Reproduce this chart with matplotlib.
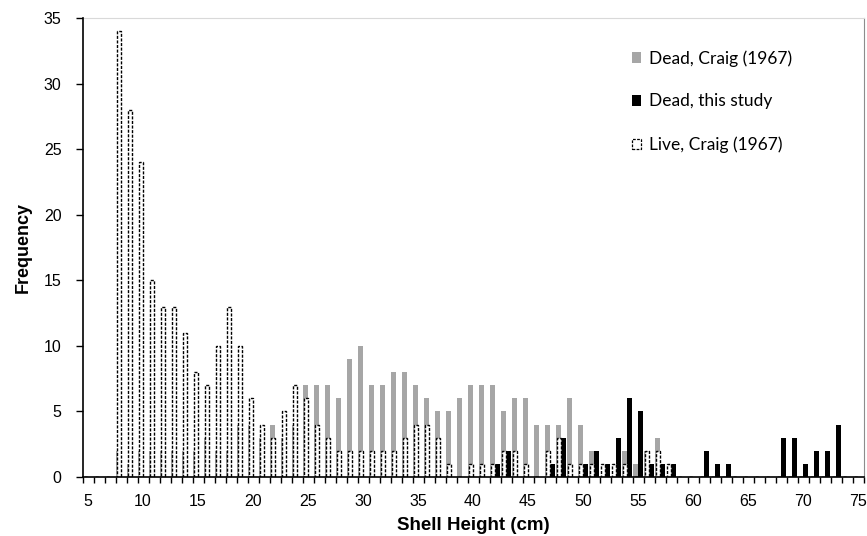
import numpy as np
import matplotlib
matplotlib.use("Agg")
import matplotlib.pyplot as plt
from matplotlib.patches import Patch

# shell height classes (cm)
sizes = np.arange(5, 76)

# Dead, Craig (1967)
dead_craig = [0, 0, 0, 2, 1, 2, 2, 2, 2, 2,
              2, 3, 2, 2, 4, 4, 3, 4, 3, 4,
              7, 7, 7, 6, 9, 10, 7, 7, 8, 8,
              7, 6, 5, 5, 6, 7, 7, 7, 5, 6,
              6, 4, 4, 4, 6, 4, 2, 0, 0, 2,
              1, 2, 3, 0, 0, 0, 0, 0, 0, 0,
              0, 0, 0, 0, 0, 0, 0, 0, 0, 0,
              0]

# Dead, this study
dead_study = [0, 0, 0, 0, 0, 0, 0, 0, 0, 0,
              0, 0, 0, 0, 0, 0, 0, 0, 0, 0,
              0, 0, 0, 0, 0, 0, 0, 0, 0, 0,
              0, 0, 0, 0, 0, 0, 0, 1, 2, 0,
              0, 0, 1, 3, 0, 1, 2, 1, 3, 6,
              5, 1, 1, 1, 0, 0, 2, 1, 1, 0,
              0, 0, 0, 3, 3, 1, 2, 2, 4, 0,
              0]

# Live, Craig (1967)
live_craig = [0, 0, 0, 34, 28, 24, 15, 13, 13, 11,
              8, 7, 10, 13, 10, 6, 4, 3, 5, 7,
              6, 4, 3, 2, 2, 2, 2, 2, 2, 3,
              4, 4, 3, 1, 0, 1, 1, 1, 2, 2,
              1, 0, 2, 3, 1, 1, 1, 1, 1, 1,
              0, 2, 2, 1, 0, 0, 0, 0, 0, 0,
              0, 0, 0, 0, 0, 0, 0, 0, 0, 0,
              0]

labels = ["Dead, Craig (1967)", "Dead, this study", "Live, Craig (1967)"]

plt.rcParams['font.family'] = ['Liberation Sans', 'DejaVu Sans']
dash = (0, (2.2, 1.1))

fig = plt.figure(figsize=(8.67, 5.36), dpi=100)
ax = fig.add_axes([82.5 / 867, 59 / 536, 781 / 867, 459 / 536])

ax.bar(sizes - 0.24, dead_craig, width=0.46, color='#a6a6a6', zorder=2)
ax.bar(sizes + 0.23, dead_study, width=0.44, color='black', zorder=2)
ax.bar(sizes - 0.21, live_craig, width=0.36, facecolor='white', edgecolor='black',
       linestyle=dash, linewidth=1.0, zorder=3)

ax.set_xlim(4.5, 75.5)
ax.set_ylim(0, 35)

ax.set_xticks(range(5, 76, 5))
ax.set_xticks(np.arange(4.5, 76, 1), minor=True)
ax.tick_params(axis='x', which='major', length=0, pad=12, labelsize=11.5)
ax.tick_params(axis='x', which='minor', length=4, width=1, direction='out')
ax.set_yticks(range(0, 36, 5))
ax.tick_params(axis='y', length=5, width=1, pad=10, labelsize=11.5)

ax.set_xlabel('Shell Height (cm)', fontweight='bold', fontsize=13.5, labelpad=6)
ax.set_ylabel('Frequency', fontweight='bold', fontsize=13, labelpad=9)

for s in ['left', 'bottom']:
    ax.spines[s].set_linewidth(1.2)
    ax.spines[s].set_zorder(4)
ax.spines['top'].set_color('#d9d9d9')
ax.spines['top'].set_linewidth(0.8)
ax.spines['right'].set_color('#8c8c8c')
ax.spines['right'].set_linewidth(0.8)

handles = [Patch(facecolor='#a6a6a6', edgecolor='none'),
           Patch(facecolor='black', edgecolor='none'),
           Patch(facecolor='white', edgecolor='black', linestyle=dash, linewidth=0.9)]
fig.legend(handles, labels, loc='upper left', bbox_to_anchor=(0.729, 0.9067),
           frameon=False, prop={'family': ['Lato', 'DejaVu Sans'], 'size': 12.5},
           handlelength=0.5, handleheight=0.55, handletextpad=0.45,
           labelspacing=1.55, borderpad=0, borderaxespad=0)

plt.savefig('out.png', dpi=100)
